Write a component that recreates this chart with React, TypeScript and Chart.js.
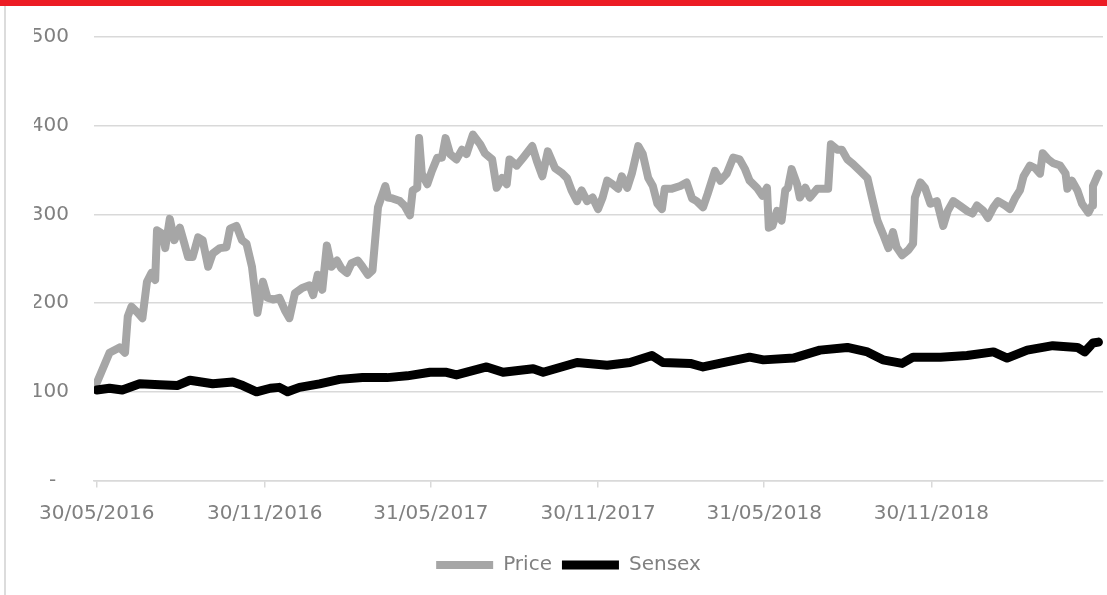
import React, { useEffect, useRef } from 'react';
import { Chart, registerables } from 'chart.js';

Chart.register(...registerables);

// Days elapsed since 30/05/2016
const priceDays = [
  0, 14, 25, 31, 34, 38, 45, 50, 55, 60,
  64, 66, 72, 75, 80, 85, 91, 96, 100, 105,
  111, 116, 122, 127, 135, 142, 146, 153, 159, 164,
  170, 173, 176, 182, 187, 193, 200, 206, 211, 217,
  225, 233, 237, 242, 247, 252, 257, 263, 268, 274,
  279, 286, 291, 297, 302, 308, 316, 319, 324, 332,
  337, 343, 346, 351, 353, 356, 362, 367, 373, 378,
  382, 387, 394, 400, 405, 412, 420, 425, 433, 438,
  444, 449, 452, 460, 467, 477, 482, 488, 494, 502,
  509, 515, 520, 526, 531, 537, 543, 549, 554, 559,
  565, 571, 575, 581, 586, 593, 598, 604, 609, 614,
  619, 622, 630, 639, 646, 652, 657, 664, 669, 677,
  683, 690, 697, 704, 710, 715, 723, 729, 734, 736,
  740, 745, 750, 754, 757, 761, 767, 770, 776, 781,
  789, 795, 801, 804, 811, 816, 822, 828, 836, 844,
  849, 855, 861, 867, 872, 876, 882, 889, 894, 896,
  902, 907, 913, 920, 927, 932, 938, 945, 953, 959,
  964, 971, 976, 982, 987, 995, 1000, 1006, 1011, 1015,
  1022, 1028, 1033, 1036, 1042, 1047, 1055, 1061, 1063, 1068,
  1074, 1079, 1086, 1090, 1091, 1097,
];

const priceValues = [
  110, 144, 150, 144, 185, 196, 189, 183, 224, 234,
  226, 282, 278, 262, 295, 271, 285, 267, 252, 252,
  274, 271, 241, 256, 262, 263, 284, 287, 271, 267,
  241, 215, 189, 224, 206, 204, 206, 192, 183, 211,
  217, 220, 209, 232, 215, 265, 241, 248, 239, 234,
  245, 248, 241, 232, 237, 308, 332, 319, 318, 315,
  310, 299, 327, 330, 386, 346, 334, 349, 364, 364,
  386, 368, 362, 373, 368, 390, 379, 369, 362, 330,
  341, 334, 362, 355, 364, 377, 360, 343, 371, 352,
  347, 341, 327, 315, 327, 315, 319, 306, 319, 338,
  334, 329, 343, 330, 346, 377, 368, 341, 332, 312,
  306, 329, 329, 332, 336, 318, 315, 308, 323, 349,
  338, 346, 364, 362, 351, 338, 330, 321, 330, 285,
  287, 304, 293, 327, 330, 351, 334, 319, 330, 319,
  329, 329, 329, 379, 373, 373, 362, 357, 349, 341,
  319, 293, 278, 262, 280, 263, 254, 260, 267, 319,
  336, 330, 312, 315, 287, 304, 315, 310, 304, 301,
  310, 304, 296, 308, 315, 310, 306, 319, 327, 343,
  355, 352, 346, 369, 362, 358, 355, 346, 329, 338,
  327, 312, 302, 310, 332, 346,
];

const sensexDays = [
  0, 14, 28, 47, 69, 88, 102, 127, 149, 160,
  175, 190, 200, 209, 222, 244, 266, 291, 318, 340,
  365, 383, 394, 427, 445, 478, 489, 526, 559, 584,
  608, 620, 650, 664, 686, 715, 730, 763, 792, 822,
  844, 861, 882, 894, 924, 953, 982, 997, 1019, 1047,
  1074, 1082, 1091, 1097,
];

const sensexValues = [
  102, 104, 102, 109, 108, 107, 113, 109, 111, 107,
  100, 104, 105, 100, 105, 109, 114, 116, 116, 118,
  122, 122, 119, 128, 122, 126, 122, 133, 130, 133,
  141, 133, 132, 128, 133, 139, 136, 138, 147, 150,
  145, 136, 132, 139, 139, 141, 145, 138, 147, 152,
  150, 145, 155, 156,
];

const tickDays = [0, 184, 366, 549, 731, 914];
const tickLabels = ['30/05/2016', '30/11/2016', '31/05/2017', '30/11/2017', '31/05/2018', '30/11/2018'];

const FONT = "'DejaVu Sans', sans-serif";
const TEXT = '#808080';
const GRID = '#d9d9d9';

export default function App() {
  const ref = useRef<HTMLCanvasElement | null>(null);

  useEffect(() => {
    if (!ref.current) return;
    const chart = new Chart(ref.current, {
      type: 'line',
      data: {
        datasets: [
          {
            label: 'Price',
            data: priceDays.map((d, i) => ({ x: d, y: priceValues[i] })),
            borderColor: '#a6a6a6',
            backgroundColor: '#a6a6a6',
            borderWidth: 8,
            pointRadius: 0,
            borderJoinStyle: 'round',
            borderCapStyle: 'round',
            tension: 0,
            order: 1,
          },
          {
            label: 'Sensex',
            data: sensexDays.map((d, i) => ({ x: d, y: sensexValues[i] })),
            borderColor: '#000000',
            backgroundColor: '#000000',
            borderWidth: 9,
            pointRadius: 0,
            borderJoinStyle: 'round',
            borderCapStyle: 'round',
            tension: 0,
            order: 0,
          },
        ],
      },
      options: {
        animation: false,
        responsive: false,
        events: [],
        layout: { padding: { top: 35, left: 34, right: 4, bottom: 10 } },
        scales: {
          x: {
            type: 'linear',
            min: -3,
            max: 1102,
            afterBuildTicks: (scale: any) => {
              scale.ticks = tickDays.map((v) => ({ value: v }));
            },
            afterFit: (scale: any) => {
              scale.height = 64.5;
            },
            ticks: {
              autoSkip: false,
              maxRotation: 0,
              padding: 14,
              color: TEXT,
              font: { family: FONT, size: 20 },
              callback: (_v: any, i: number) => tickLabels[i],
            },
            grid: {
              drawOnChartArea: false,
              drawTicks: true,
              tickLength: 7,
              color: GRID,
              lineWidth: 1.5,
            },
            border: { color: GRID, width: 1.5 },
          },
          y: {
            min: 0,
            max: 500,
            afterFit: (scale: any) => {
              scale.width = 60;
            },
            ticks: {
              stepSize: 100,
              padding: 25,
              color: TEXT,
              font: { family: FONT, size: 20 },
              callback: (v: any) => (v === 0 ? '-  ' : String(v)),
            },
            grid: { color: GRID, lineWidth: 1.5, drawTicks: false },
            border: { display: false },
          },
        },
        plugins: {
          tooltip: { enabled: false },
          legend: {
            position: 'bottom',
            labels: {
              color: TEXT,
              font: { family: FONT, size: 20 },
              usePointStyle: true,
              pointStyle: 'line',
              pointStyleWidth: 57,
              padding: 10,
              sort: (a: any, b: any) => a.datasetIndex - b.datasetIndex,
            },
          },
        },
      },
    } as any);
    return () => chart.destroy();
  }, []);

  return (
    <div style={{ position: 'absolute', left: 0, top: 0, width: 1107, height: 595, background: '#ffffff', overflow: 'hidden' }}>
      <canvas ref={ref} width={1107} height={595} style={{ position: 'absolute', left: 0, top: 0, width: 1107, height: 595 }} />
      <div style={{ position: 'absolute', left: 0, top: 0, width: 1107, height: 6, background: '#ec1c24' }} />
      <div style={{ position: 'absolute', left: 4, top: 6, width: 2, height: 589, background: '#dcdcdc' }} />
    </div>
  );
}
